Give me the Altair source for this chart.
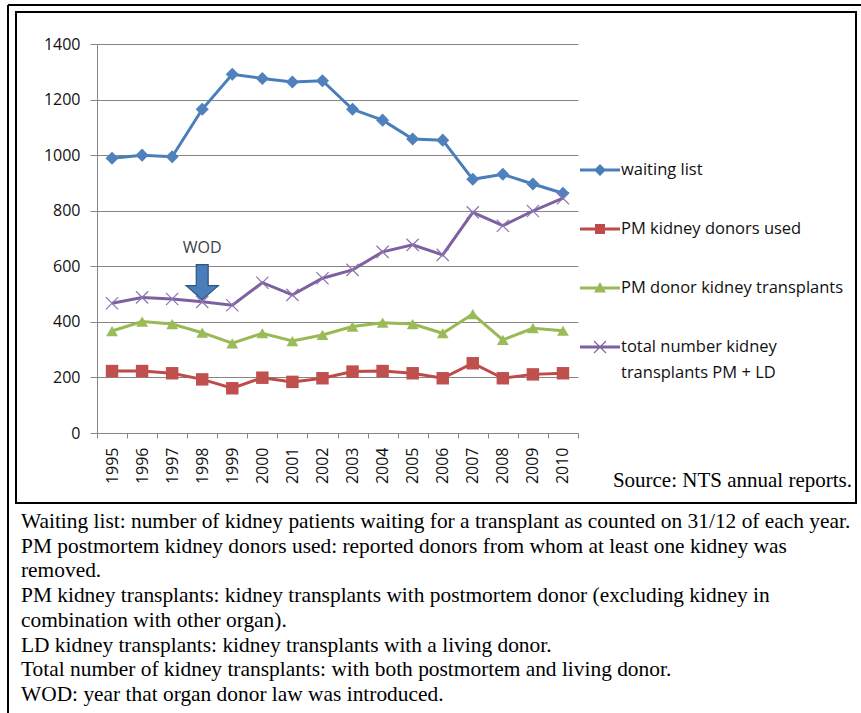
import altair as alt
import pandas as pd

# Kidney transplant figures per year
years = [str(y) for y in range(1995, 2011)]
waiting_list = [989, 1000, 994, 1165, 1291, 1276, 1263, 1268, 1165, 1126, 1058, 1054, 913, 931, 896, 863]
pm_donors_used = [223, 223, 215, 193, 161, 199, 184, 197, 221, 223, 215, 197, 251, 197, 211, 215]
pm_transplants = [367, 401, 392, 361, 323, 359, 331, 353, 383, 397, 392, 359, 428, 335, 377, 368]
total_transplants = [467, 488, 482, 472, 460, 541, 497, 557, 587, 652, 677, 641, 794, 746, 799, 845]

series = [
    "waiting list",
    "PM kidney donors used",
    "PM donor kidney transplants",
    "total number kidney transplants PM + LD",
]
line_colors = ["#4A7EBB", "#BE4B48", "#98B954", "#7D60A0"]
marker_colors = ["#4F81BD", "#C0504D", "#9BBB59", "#8064A2"]

# WOD annotation (year the organ donor law was introduced)
wod_year = ["1998"]
wod_label_value = [666]
wod_arrow_value = [543]
wod_label = ["WOD"]

source_note = ["Source: NTS annual reports."]
notes = [
    "Waiting list: number of kidney patients waiting for a transplant as counted on 31/12 of each year.",
    "PM postmortem kidney donors used: reported donors from whom at least one kidney was",
    "removed.",
    "PM kidney transplants: kidney transplants with postmortem donor (excluding kidney in",
    "combination with other organ).",
    "LD kidney transplants: kidney transplants with a living donor.",
    "Total number of kidney transplants: with both postmortem and living donor.",
    "WOD: year that organ donor law was introduced.",
]

rows = []
for name, vals in zip(series, [waiting_list, pm_donors_used, pm_transplants, total_transplants]):
    for yr, v in zip(years, vals):
        rows.append({"year": yr, "value": v, "series": name})
df = pd.DataFrame(rows)

FONT = "Open Sans"
GRID = "#868686"

x_enc = alt.X(
    "year:N",
    sort=years,
    scale=alt.Scale(type="band", domain=years, paddingInner=0, paddingOuter=0),
    axis=alt.Axis(
        title=None, labelAngle=-90, tickBand="extent", tickSize=5, labelPadding=9,
        labelFont=FONT, labelFontSize=16, labelColor="#111111",
        domainColor=GRID, tickColor=GRID, grid=False,
    ),
)
y_enc = alt.Y(
    "value:Q",
    scale=alt.Scale(domain=[0, 1400], nice=False),
    axis=alt.Axis(
        title=None, values=list(range(0, 1401, 200)), format="d", tickSize=7, labelPadding=10,
        labelFont=FONT, labelFontSize=16, labelColor="#111111",
        domainColor=GRID, tickColor=GRID, grid=True, gridColor=GRID, gridWidth=1,
    ),
)

lines = alt.Chart(df).mark_line(strokeWidth=3).encode(
    x=x_enc, y=y_enc,
    color=alt.Color("series:N", scale=alt.Scale(domain=series, range=line_colors), legend=None),
)

filled_series = series[:3]
filled_points = alt.Chart(df).transform_filter(
    alt.FieldOneOfPredicate(field="series", oneOf=filled_series)
).mark_point(filled=True, opacity=1).encode(
    x=x_enc, y=y_enc,
    color=alt.Color("series:N", scale=alt.Scale(domain=filled_series, range=marker_colors[:3]), legend=None),
    shape=alt.Shape("series:N", scale=alt.Scale(domain=filled_series, range=["diamond", "square", "triangle-up"]), legend=None),
    size=alt.Size("series:N", scale=alt.Scale(domain=filled_series, range=[170, 140, 140]), legend=None),
)

cross_points = alt.Chart(df).transform_filter(
    alt.datum.series == series[3]
).mark_point(
    shape="M-1,-1L1,1M-1,1L1,-1", filled=False, size=150, strokeWidth=1.2,
    color="#8C74B0", opacity=1,
).encode(x=x_enc, y=y_enc)

# Legend symbols: a short line with the series marker in its middle
BAR = "M-1,-0.075L1,-0.075L1,0.075L-1,0.075Z"
legend_shapes = [
    BAR + "M0,-0.3L0.3,0L0,0.3L-0.3,0Z",
    BAR + "M-0.25,-0.25L0.25,-0.25L0.25,0.25L-0.25,0.25Z",
    BAR + "M0,-0.3L0.3,0.22L-0.3,0.22Z",
    BAR + "M-0.28,-0.32L0.32,0.28L0.28,0.32L-0.32,-0.28Z" + "M0.28,-0.32L0.32,-0.28L-0.28,0.32L-0.32,0.28Z",
]
legend_def = alt.Legend(
    title=None, orient="none", legendX=483, legendY=106,
    symbolSize=1600, symbolStrokeWidth=0, symbolOpacity=1,
    labelFont=FONT, labelFontSize=16.5, labelColor="#111111", labelOffset=1,
    labelLimit=400, rowPadding=30,
    labelExpr="datum.label == 'total number kidney transplants PM + LD' ? ['total number kidney', 'transplants PM + LD'] : datum.label",
)
legend_layer = alt.Chart(df).transform_filter("false").mark_point(filled=True, opacity=1).encode(
    color=alt.Color("series:N", scale=alt.Scale(domain=series, range=line_colors), legend=legend_def),
    shape=alt.Shape("series:N", scale=alt.Scale(domain=series, range=legend_shapes), legend=legend_def),
)

wod_df = pd.DataFrame({"year": wod_year, "label_value": wod_label_value,
                       "arrow_value": wod_arrow_value, "label": wod_label})
wod_text = alt.Chart(wod_df).mark_text(font=FONT, fontSize=16, color="#404040", baseline="middle").encode(
    x=alt.X("year:N", sort=years), y=alt.Y("label_value:Q"), text="label:N",
)
wod_arrow = alt.Chart(wod_df).mark_point(
    shape="M-0.34,-1L0.34,-1L0.34,0.2L0.92,0.2L0,1L-0.92,0.2L-0.34,0.2Z",
    filled=True, size=1225, fill="#4A7EBB", stroke="#2C5482", strokeWidth=1.2, opacity=1,
).encode(x=alt.X("year:N", sort=years), y=alt.Y("arrow_value:Q"))

source_text = alt.Chart(pd.DataFrame({"t": source_note})).mark_text(
    font="Liberation Serif", fontSize=21, align="right", baseline="alphabetic", color="black",
).encode(x=alt.value(755), y=alt.value(443), text="t:N")

notes_text = alt.Chart(pd.DataFrame({"t": ["\n".join(notes)]})).mark_text(
    font="Liberation Serif", fontSize=21.4, align="left", baseline="alphabetic",
    color="black", lineBreak="\n", lineHeight=24.7,
).encode(x=alt.value(-76), y=alt.value(484), text="t:N")

# Frames around chart and caption
one = pd.DataFrame({"k": [0]})
outer_top = alt.Chart(one).mark_rule(color="black", strokeWidth=2).encode(
    x=alt.value(-89), x2=alt.value(764), y=alt.value(-39))
outer_left = alt.Chart(one).mark_rule(color="black", strokeWidth=2).encode(
    x=alt.value(-89), y=alt.value(-39), y2=alt.value(669))
inner_box = alt.Chart(one).mark_rect(fillOpacity=0, stroke="black", strokeWidth=2).encode(
    x=alt.value(-81), x2=alt.value(759), y=alt.value(-32), y2=alt.value(459))

chart = alt.layer(
    outer_top, outer_left, inner_box,
    lines, filled_points, cross_points, legend_layer,
    wod_arrow, wod_text, source_text, notes_text,
).resolve_scale(
    color="independent", shape="independent", size="independent",
).properties(
    width=481, height=389,
    autosize=alt.AutoSizeParams(type="none"),
    padding={"left": 97, "top": 44, "right": 283, "bottom": 280},
    background="white",
).configure(
    style={"guide-label": {"lineHeight": 26}}
).configure_view(stroke=None)

chart.save("out.html", embed_options={"renderer": "svg", "actions": False})
